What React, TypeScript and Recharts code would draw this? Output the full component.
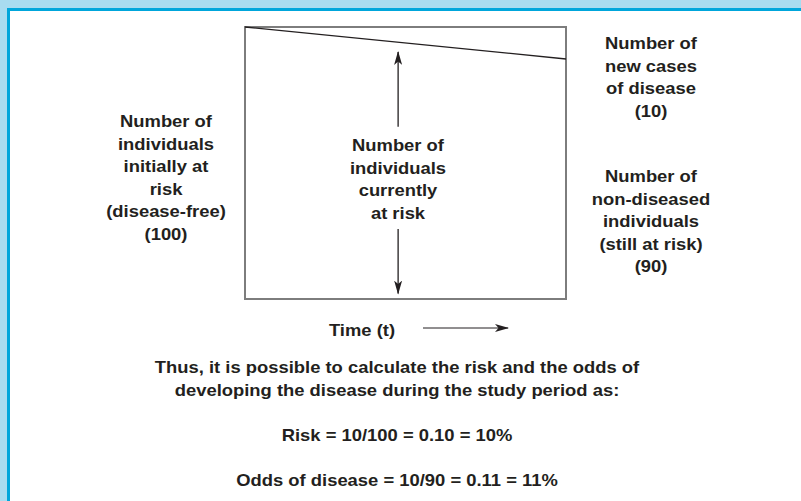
import React from 'react';
import { LineChart, Line, XAxis, YAxis, ReferenceArea, ReferenceLine } from 'recharts';

// ---- data ----
const timePoints = [0, 1];
const atRiskCount = [100, 90];
const yDomain = [15, 100];

const leftLabel = ['Number of', 'individuals', 'initially at', 'risk', '(disease-free)', '(100)'];
const centerLabel = ['Number of', 'individuals', 'currently', 'at risk'];
const topRightLabel = ['Number of', 'new cases', 'of disease', '(10)'];
const bottomRightLabel = ['Number of', 'non-diseased', 'individuals', '(still at risk)', '(90)'];
const timeLabel = 'Time (t)';
const summaryLines = [
  'Thus, it is possible to calculate the risk and the odds of',
  'developing the disease during the study period as:',
];
const riskLine = 'Risk = 10/100 = 0.10 = 10%';
const oddsLine = 'Odds of disease = 10/90 = 0.11 = 11%';

// arrow positions in data units
const arrowT = 0.477;
const upArrow = [68.8, 92.2];
const downArrow = [36.9, 16.7];

const data = timePoints.map((t, i) => ({ t, n: atRiskCount[i] }));

const W = 801;
const H = 501;
const TEXT = '#231f20';
const FONT = '"Liberation Sans", Arial, Helvetica, sans-serif';
const SX = 1.15;
const LH = 22.5;

function Block({ lines, cx, y0, lh = LH }: { lines: string[]; cx: number; y0: number; lh?: number }) {
  return (
    <g>
      {lines.map((s, i) => (
        <text
          key={i}
          transform={`translate(${cx},${y0 + i * lh + 6}) scale(${SX},1)`}
          textAnchor="middle"
          fontFamily={FONT}
          fontWeight="bold"
          fontSize={16}
          fill={TEXT}
        >
          {s}
        </text>
      ))}
    </g>
  );
}

export default function App() {
  return (
    <div style={{ position: 'fixed', left: 0, top: 0, width: W, height: H, background: '#ffffff', overflow: 'hidden' }}>
      {/* frame */}
      <div style={{ position: 'absolute', left: 0, top: 0, width: W, height: 8, background: '#a8dcf0' }} />
      <div style={{ position: 'absolute', left: 0, top: 0, width: 7, height: H, background: '#a8dcf0' }} />
      <div style={{ position: 'absolute', left: 7, top: 8, width: W - 7, height: 3, background: '#00a6db' }} />
      <div style={{ position: 'absolute', left: 7, top: 8, width: 3, height: H - 8, background: '#00a6db' }} />

      <svg width={0} height={0} style={{ position: 'absolute' }}>
        <defs>
          <marker id="ahead" viewBox="0 0 14 8" refX="13" refY="4" markerWidth="14" markerHeight="8" markerUnits="userSpaceOnUse" orient="auto">
            <path d="M0,0 L14,4 L0,8 L3.5,4 Z" fill={TEXT} />
          </marker>
        </defs>
      </svg>

      <div style={{ position: 'absolute', left: 0, top: 0 }}>
        <LineChart width={W} height={H} data={data} margin={{ top: 27, right: 235, bottom: 202, left: 245 }}>
          <XAxis dataKey="t" type="number" domain={[0, 1]} hide />
          <YAxis type="number" domain={yDomain} hide />
          <ReferenceArea x1={0} x2={1} y1={yDomain[0]} y2={yDomain[1]} fill="none" fillOpacity={0} stroke="#7d7d7d" strokeWidth={2} ifOverflow="visible" />
          <ReferenceLine
            segment={[{ x: arrowT, y: upArrow[0] }, { x: arrowT, y: upArrow[1] }]}
            stroke={TEXT}
            strokeWidth={1.3}
            markerEnd="url(#ahead)"
          />
          <ReferenceLine
            segment={[{ x: arrowT, y: downArrow[0] }, { x: arrowT, y: downArrow[1] }]}
            stroke={TEXT}
            strokeWidth={1.3}
            markerEnd="url(#ahead)"
          />
          <Line dataKey="n" stroke={TEXT} strokeWidth={1.3} dot={false} isAnimationActive={false} />
        </LineChart>
      </div>

      <svg width={W} height={H} style={{ position: 'absolute', left: 0, top: 0, pointerEvents: 'none' }}>
        <Block lines={leftLabel} cx={166} y0={121} />
        <Block lines={centerLabel} cx={398} y0={145} />
        <Block lines={topRightLabel} cx={651} y0={43} />
        <Block lines={bottomRightLabel} cx={651} y0={176} />
        <Block lines={[timeLabel]} cx={362} y0={330} />
        <line x1={423} y1={328} x2={508} y2={328} stroke={TEXT} strokeWidth={1} markerEnd="url(#ahead)" />
        <Block lines={summaryLines} cx={397} y0={367} lh={23} />
        <Block lines={[riskLine]} cx={397} y0={435} />
        <Block lines={[oddsLine]} cx={397} y0={480} />
      </svg>
    </div>
  );
}
